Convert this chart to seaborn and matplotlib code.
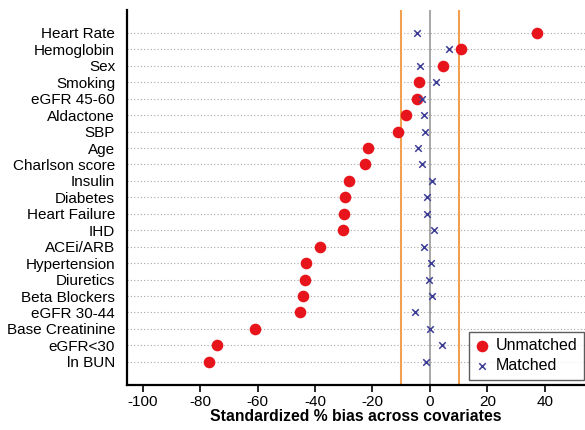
import matplotlib
matplotlib.use("Agg")
import matplotlib.pyplot as plt
import pandas as pd
import seaborn as sns

sns.set_theme(style="white")
plt.rcParams["font.family"] = ["Liberation Sans", "DejaVu Sans"]
plt.rcParams["axes.unicode_minus"] = False
plt.rcParams["text.color"] = "black"
plt.rcParams["xtick.color"] = "black"
plt.rcParams["ytick.color"] = "black"
plt.rcParams["axes.labelcolor"] = "black"

covariates = [
    "Heart Rate", "Hemoglobin", "Sex", "Smoking", "eGFR 45-60", "Aldactone",
    "SBP", "Age", "Charlson score", "Insulin", "Diabetes", "Heart Failure",
    "IHD", "ACEi/ARB", "Hypertension", "Diuretics", "Beta Blockers",
    "eGFR 30-44", "Base Creatinine", "eGFR<30", "ln BUN",
]
unmatched = [37.2, 10.8, 4.5, -3.8, -4.5, -8.3, -11.1, -21.6, -22.6, -28.2,
             -29.6, -29.8, -30.4, -38.3, -43.3, -43.6, -44.1, -45.1, -61.0,
             -74.0, -77.0]
matched = [-4.5, 6.6, -3.5, 2.1, -2.8, -2.1, -1.7, -4.2, -2.8, 0.8,
           -1.0, -0.9, 1.3, -2.1, 0.4, -0.2, 0.8, -5.1, 0.0, 4.2, -1.4]

df = pd.DataFrame({"covariate": covariates, "Unmatched": unmatched, "Matched": matched})
long_df = df.melt(id_vars="covariate", var_name="sample", value_name="bias")

fig = plt.figure(figsize=(5.85, 4.3), dpi=100)
ax = fig.add_axes([0.217, 0.105, 0.783, 0.872])

# dotted guide lines for every covariate
for i in range(len(covariates)):
    ax.axhline(i, color="#a8a8a8", linestyle=(0, (1, 2)), linewidth=0.8, zorder=0)

ax.axvline(0, color="#a0a0a0", linewidth=1.3, zorder=1)
ax.axvline(-10, color="#f0a050", linewidth=1.5, zorder=1)
ax.axvline(10, color="#f0a050", linewidth=1.5, zorder=1)

sns.scatterplot(
    data=long_df[long_df["sample"] == "Unmatched"], x="bias", y="covariate",
    color="#e8141c", marker="o", s=70, linewidth=0, ax=ax, label="Unmatched", zorder=3,
)
sns.scatterplot(
    data=long_df[long_df["sample"] == "Matched"], x="bias", y="covariate",
    color="#3c3c96", marker="x", s=22, linewidth=1.1, ax=ax, label="Matched", zorder=4,
)

ax.set_xlim(-105.5, 54)
ax.set_ylim(len(covariates) - 1 + 1.4, -1.4)
ax.set_xticks([-100, -80, -60, -40, -20, 0, 20, 40])
ax.set_ylabel("")
ax.set_xlabel("Standardized % bias across covariates", fontsize=11.3, fontweight="bold",
              labelpad=0)
ax.tick_params(axis="x", which="both", bottom=True, length=5, width=1.2,
               direction="out", labelsize=11, pad=2, color="black")
ax.tick_params(axis="y", left=False, labelsize=11, pad=2.5)

for side in ["top", "right"]:
    ax.spines[side].set_visible(False)
for side in ["left", "bottom"]:
    ax.spines[side].set_color("black")
    ax.spines[side].set_linewidth(1.6)

leg = ax.legend(loc="lower right", bbox_to_anchor=(0.998, 0.014), borderaxespad=0,
                frameon=True, fontsize=11.5, handlelength=0.8, handletextpad=0.5,
                borderpad=0.4, labelspacing=0.3, fancybox=False)
leg.get_frame().set_edgecolor("#333333")
leg.get_frame().set_linewidth(1.0)

fig.savefig("out.png", dpi=100)
